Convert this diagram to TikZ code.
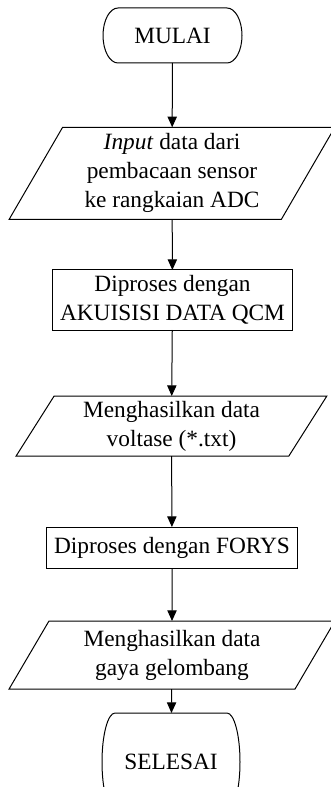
\documentclass[tikz,border=0pt]{standalone}
\usepackage{fontspec}
\setmainfont{Liberation Serif}
\usetikzlibrary{shapes.geometric,arrows.meta}
\newcommand{\flowFont}[0]{\fontsize{17.5}{21.75}\selectfont}
\newcommand{\termOutline}[3]{%
  \draw ([xshift=#2]#1.north west) -- ([xshift=-#2]#1.north east)
    arc[start angle=90, end angle=-90, x radius=#2, y radius=#3]
    -- ([xshift=#2]#1.south west)
    arc[start angle=270, end angle=90, x radius=#2, y radius=#3] -- cycle;}

\begin{document}
\begin{tikzpicture}[x=0.75pt, y=-0.75pt, line width=0.75pt]
  \tikzset{every node/.style={align=center,font=\flowFont},
    terminal/.style={rectangle,outer sep=0pt},
    process/.style={rectangle,draw,outer sep=0pt},
    io/.style={trapezium,draw,outer sep=0pt,trapezium stretches=true,
      trapezium left angle=63,trapezium right angle=117},
    flow/.style={-{Triangle[width=7pt,length=8pt]}}}
  \useasboundingbox (0,0) rectangle (331,787);
  \node[terminal,minimum width=104.25pt,minimum height=41.25pt] (mulai) at (172.5,35.5) {MULAI};
  \node[io,minimum width=244.5pt,minimum height=69pt] (input) at (172,173.3)
    {\textit{Input} data dari\\pembacaan sensor\\ke rangkaian ADC};
  \node[process,minimum width=180pt,minimum height=45pt] (akuisisi) at (172.5,300)
    {Diproses dengan\\AKUISISI DATA QCM};
  \node[io,minimum width=233.25pt,minimum height=45pt] (voltase) at (171.5,426)
    {Menghasilkan data\\voltase (*.txt)};
  \node[process,minimum width=188.25pt,minimum height=30.75pt] (forys) at (172,547.5)
    {Diproses dengan FORYS};
  \node[io,minimum width=244.5pt,minimum height=51pt] (gaya) at (172,655)
    {Menghasilkan data\\gaya gelombang};
  \node[terminal,minimum width=103.5pt,minimum height=73.5pt] (selesai) at (171,762) {SELESAI};
  \termOutline{mulai}{11.25pt}{20.625pt}
  \termOutline{selesai}{9.75pt}{36.75pt}
  \draw[flow] (mulai) -- (input);
  \draw[flow] (input) -- (akuisisi);
  \draw[flow] (akuisisi) -- (voltase);
  \draw[flow] (voltase) -- (forys);
  \draw[flow] (forys) -- (gaya);
  \draw[flow] (gaya) -- (selesai);
\end{tikzpicture}
\end{document}
